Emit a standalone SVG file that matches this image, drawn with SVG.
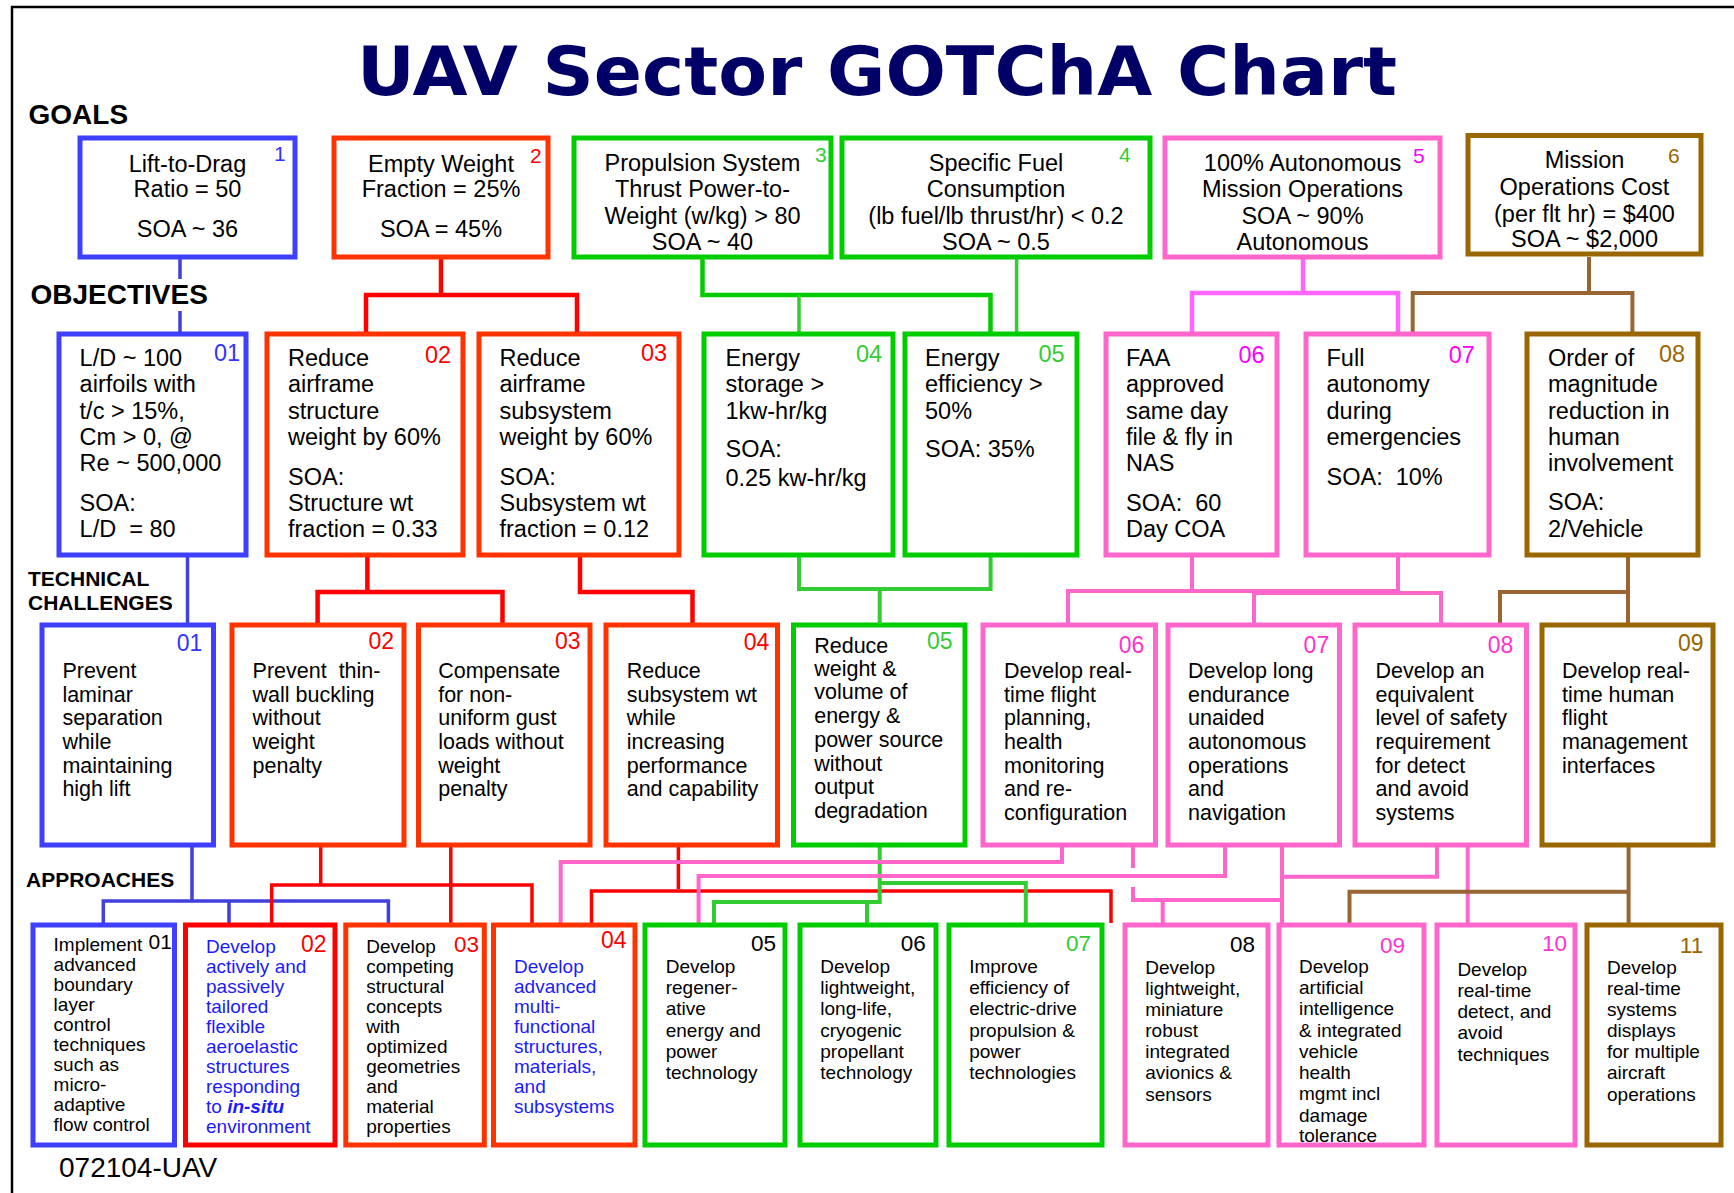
<svg xmlns="http://www.w3.org/2000/svg" width="1734" height="1193" viewBox="0 0 1734 1193">
<style>
text{font-family:"Liberation Sans",Arial,sans-serif;fill:#000}
.box{fill:#fff;stroke-width:5}
.b{stroke:#3f3fff}.r{stroke:#ff3300}.rr{stroke:#ff0000}.g{stroke:#00cc00}.p{stroke:#ff66cc}.br{stroke:#996600}
.gt{font-size:23.5px;text-anchor:middle}
.ot{font-size:23.5px}
.tt{font-size:21.5px}
.at{font-size:19px}
.blue{fill:#1a1aff}
.n1{font-size:21px}.n2{font-size:23.5px}.n3{font-size:23px}.n4{font-size:22.5px}
.nb{fill:#3333ff}.nr{fill:#ff0000}.ng{fill:#33cc33}.nm{fill:#ff00ff}.np{fill:#ff33cc}.nbr{fill:#996600}.nk{fill:#000}
.lbl{font-weight:bold}
.c{fill:none;stroke-linejoin:miter;stroke-linecap:butt}
.cb{stroke:#4040dd;stroke-width:3.5}
.cr{stroke:#ff0000;stroke-width:4.5}
.cr2{stroke:#ff0000;stroke-width:3.5}
.cg{stroke:#00cc00;stroke-width:4.5}
.cg2{stroke:#33cc33;stroke-width:3.5}
.cg3{stroke:#33cc33;stroke-width:4}
.cp{stroke:#ff66ff;stroke-width:4.5}
.cp2{stroke:#ff66cc;stroke-width:4}
.cbr{stroke:#996633;stroke-width:4}
</style>
<rect x="0" y="0" width="1734" height="1193" fill="#fff"/>
<path d="M12,1193 V7 H1734" fill="none" stroke="#000" stroke-width="2.5"/>
<text x="357" y="95" font-family="DejaVu Sans, sans-serif" font-weight="bold" font-size="67" fill="#000066" textLength="1040" lengthAdjust="spacingAndGlyphs" style="font-family:'DejaVu Sans',sans-serif;fill:#000066">UAV Sector GOTChA Chart</text>
<text class="lbl" x="28.5" y="124" font-size="28">GOALS</text>
<text class="lbl" x="30.5" y="304" font-size="28">OBJECTIVES</text>
<text class="lbl" x="28" y="586" font-size="21">TECHNICAL</text>
<text class="lbl" x="28" y="610" font-size="21">CHALLENGES</text>
<text class="lbl" x="26" y="886.7" font-size="21">APPROACHES</text>
<text x="59" y="1177" font-size="28">072104-UAV</text>

<g id="connectors">
<path class="c cb" d="M180,257 V279 M180,311 V334 M187.5,555 V625 M192,845 V901 M103.3,925 V901 H388.4 V925 M229,901 V925"/>
<path class="c cr" d="M441,257 V295 M366,334 V295 H577 V334 M367.4,555 V592 M317.6,625 V592 H502.5 V625 M580,555 V592 H692.5 V625"/>
<path class="c cr2" d="M320.7,845 V885 M271.7,925 V885 H532 V925 M450.8,845 V925 M678.4,845 V889 M591.5,925 V891 H1111 V923"/>
<path class="c cg" d="M702.5,257 V295 H990.5 V334"/>
<path class="c cg2" d="M799,295 V334 M1016.6,257 V334"/>
<path class="c cg3" d="M799,555 V589 H990.6 V555 M879.7,589 V625 M879.7,845 V902 H714 V925 M867,902 V925 M879.7,883 H1025.8 V925"/>
<path class="c cp" d="M1303,257 V293 M1192,334 V293 H1398 V334"/>
<path class="c cp2" d="M1192,555 V591 M1398,555 V591 M1068,625 V591 H1398 M1254,625 V593 H1441 V625 M1062,845 V862 H560.7 V925 M1225,845 V876 H698.6 V925 M1133,845 V868 M1133,887 V900 H1282 M1162.7,900 V925 M1282,845 V925 M1437,845 V876.7 H1282 M1467.7,845 V925"/>
<path class="c cbr" d="M1589,257 V293 M1412.7,334 V293 H1632.4 V334 M1628,555 V625 M1500,625 V592 H1628 M1628.6,845 V925 M1349.5,925 V891.7 H1628.6"/>
</g>

<g id="goal1"><rect class="box b" x="80" y="138" width="215" height="119"/><text class="gt"><tspan x="187.5" y="171.7">Lift-to-Drag</tspan><tspan x="187.5" y="197.3">Ratio = 50</tspan><tspan x="187.5" y="237.3">SOA ~ 36</tspan></text><text class="n1 nb" x="274" y="161">1</text></g>
<g id="goal2"><rect class="box r" x="334" y="138" width="214" height="119"/><text class="gt"><tspan x="441" y="171.7">Empty Weight</tspan><tspan x="441" y="197.3">Fraction = 25%</tspan><tspan x="441" y="237.3">SOA = 45%</tspan></text><text class="n1 nr" x="530" y="162.7">2</text></g>
<g id="goal3"><rect class="box g" x="574" y="138" width="257" height="119"/><text class="gt"><tspan x="702.5" y="171">Propulsion System</tspan><tspan x="702.5" y="197.3">Thrust Power-to-</tspan><tspan x="702.5" y="224.3">Weight (w/kg) &gt; 80</tspan><tspan x="702.5" y="250">SOA ~ 40</tspan></text><text class="n1 ng" x="815" y="161.7">3</text></g>
<g id="goal4"><rect class="box g" x="842" y="138" width="308" height="119"/><text class="gt"><tspan x="996" y="171">Specific Fuel</tspan><tspan x="996" y="197.3">Consumption</tspan><tspan x="996" y="224.3">(lb fuel/lb thrust/hr) &lt; 0.2</tspan><tspan x="996" y="250">SOA ~ 0.5</tspan></text><text class="n1 ng" x="1119" y="161.7">4</text></g>
<g id="goal5"><rect class="box p" x="1165" y="138" width="275" height="119"/><text class="gt"><tspan x="1302.5" y="171">100% Autonomous</tspan><tspan x="1302.5" y="197.3">Mission Operations</tspan><tspan x="1302.5" y="224.3">SOA ~ 90%</tspan><tspan x="1302.5" y="250">Autonomous</tspan></text><text class="n1 nm" x="1413" y="162.7">5</text></g>
<g id="goal6"><rect class="box br" x="1468" y="135.5" width="233" height="118.5"/><text class="gt"><tspan x="1584.5" y="168.3">Mission</tspan><tspan x="1584.5" y="195">Operations Cost</tspan><tspan x="1584.5" y="221.7">(per flt hr) = $400</tspan><tspan x="1584.5" y="246.7">SOA ~ $2,000</tspan></text><text class="n1 nbr" x="1668" y="163.3">6</text></g>

<g id="obj01"><rect class="box b" x="59" y="334" width="187" height="221"/><text class="ot"><tspan x="79.6" y="366">L/D ~ 100</tspan><tspan x="79.6" y="392.3">airfoils with</tspan><tspan x="79.6" y="419">t/c &gt; 15%,</tspan><tspan x="79.6" y="445">Cm &gt; 0, @</tspan><tspan x="79.6" y="471">Re ~ 500,000</tspan><tspan x="79.6" y="511">SOA:</tspan><tspan x="79.6" y="537.3" xml:space="preserve">L/D  = 80</tspan></text><text class="n2 nb" x="214" y="360.7">01</text></g>
<g id="obj02"><rect class="box r" x="267" y="334" width="196" height="221"/><text class="ot"><tspan x="288" y="366">Reduce</tspan><tspan x="288" y="392.3">airframe</tspan><tspan x="288" y="419">structure</tspan><tspan x="288" y="445">weight by 60%</tspan><tspan x="288" y="485">SOA:</tspan><tspan x="288" y="511">Structure wt</tspan><tspan x="288" y="537.3">fraction = 0.33</tspan></text><text class="n2 nr" x="425" y="362.7">02</text></g>
<g id="obj03"><rect class="box r" x="479" y="334" width="200" height="221"/><text class="ot"><tspan x="499.5" y="366">Reduce</tspan><tspan x="499.5" y="392.3">airframe</tspan><tspan x="499.5" y="419">subsystem</tspan><tspan x="499.5" y="445">weight by 60%</tspan><tspan x="499.5" y="485">SOA:</tspan><tspan x="499.5" y="511">Subsystem wt</tspan><tspan x="499.5" y="537.3">fraction = 0.12</tspan></text><text class="n2 nr" x="641" y="360.7">03</text></g>
<g id="obj04"><rect class="box g" x="704" y="334" width="189" height="221"/><text class="ot"><tspan x="725.5" y="366">Energy</tspan><tspan x="725.5" y="392.3">storage &gt;</tspan><tspan x="725.5" y="419">1kw-hr/kg</tspan><tspan x="725.5" y="457.3">SOA:</tspan><tspan x="725.5" y="485.7">0.25 kw-hr/kg</tspan></text><text class="n2 ng" x="856" y="362.3">04</text></g>
<g id="obj05"><rect class="box g" x="905" y="334" width="172" height="221"/><text class="ot"><tspan x="925" y="366">Energy</tspan><tspan x="925" y="392.3">efficiency &gt;</tspan><tspan x="925" y="419">50%</tspan><tspan x="925" y="457.3">SOA: 35%</tspan></text><text class="n2 ng" x="1038.5" y="362.3">05</text></g>
<g id="obj06"><rect class="box p" x="1106" y="334" width="171" height="221"/><text class="ot"><tspan x="1126" y="366">FAA</tspan><tspan x="1126" y="392.3">approved</tspan><tspan x="1126" y="419">same day</tspan><tspan x="1126" y="445">file &amp; fly in</tspan><tspan x="1126" y="471">NAS</tspan><tspan x="1126" y="511" xml:space="preserve">SOA:  60</tspan><tspan x="1126" y="537.3">Day COA</tspan></text><text class="n2 nm" x="1238.5" y="363.3">06</text></g>
<g id="obj07"><rect class="box p" x="1306" y="334" width="183" height="221"/><text class="ot"><tspan x="1326.5" y="366">Full</tspan><tspan x="1326.5" y="392.3">autonomy</tspan><tspan x="1326.5" y="419">during</tspan><tspan x="1326.5" y="445">emergencies</tspan><tspan x="1326.5" y="485" xml:space="preserve">SOA:  10%</tspan></text><text class="n2 nm" x="1448.7" y="363.3">07</text></g>
<g id="obj08"><rect class="box br" x="1527" y="334" width="171" height="221"/><text class="ot"><tspan x="1548" y="366">Order of</tspan><tspan x="1548" y="392.3">magnitude</tspan><tspan x="1548" y="419">reduction in</tspan><tspan x="1548" y="445">human</tspan><tspan x="1548" y="471">involvement</tspan><tspan x="1548" y="510">SOA:</tspan><tspan x="1548" y="536.7">2/Vehicle</tspan></text><text class="n2 nbr" x="1659" y="361.7">08</text></g>

<g id="tc01"><rect class="box b" x="42" y="625" width="171.5" height="220"/><text class="tt"><tspan x="62.4" y="678">Prevent</tspan><tspan x="62.4" y="701.7">laminar</tspan><tspan x="62.4" y="725.3">separation</tspan><tspan x="62.4" y="749">while</tspan><tspan x="62.4" y="772.7">maintaining</tspan><tspan x="62.4" y="796.3">high lift</tspan></text><text class="n3 nb" x="176.8" y="650.7">01</text></g>
<g id="tc02"><rect class="box r" x="232" y="625" width="172" height="220"/><text class="tt"><tspan x="252.6" y="678" xml:space="preserve">Prevent  thin-</tspan><tspan x="252.6" y="701.7">wall buckling</tspan><tspan x="252.6" y="725.3">without</tspan><tspan x="252.6" y="749">weight</tspan><tspan x="252.6" y="772.7">penalty</tspan></text><text class="n3 nr" x="368.5" y="649.3">02</text></g>
<g id="tc03"><rect class="box r" x="418.5" y="625" width="171.5" height="220"/><text class="tt"><tspan x="438.2" y="678">Compensate</tspan><tspan x="438.2" y="701.7">for non-</tspan><tspan x="438.2" y="725.3">uniform gust</tspan><tspan x="438.2" y="749">loads without</tspan><tspan x="438.2" y="772.7">weight</tspan><tspan x="438.2" y="796.3">penalty</tspan></text><text class="n3 nr" x="555" y="649">03</text></g>
<g id="tc04"><rect class="box r" x="606" y="625" width="171.5" height="220"/><text class="tt"><tspan x="626.7" y="678">Reduce</tspan><tspan x="626.7" y="701.7">subsystem wt</tspan><tspan x="626.7" y="725.3">while</tspan><tspan x="626.7" y="749">increasing</tspan><tspan x="626.7" y="772.7">performance</tspan><tspan x="626.7" y="796.3">and capability</tspan></text><text class="n3 nr" x="743.8" y="650">04</text></g>
<g id="tc05"><rect class="box g" x="793.5" y="625" width="171.5" height="220"/><text class="tt"><tspan x="814.2" y="652.7">Reduce</tspan><tspan x="814.2" y="676">weight &amp;</tspan><tspan x="814.2" y="699.3">volume of</tspan><tspan x="814.2" y="723.3">energy &amp;</tspan><tspan x="814.2" y="746.7">power source</tspan><tspan x="814.2" y="770.7">without</tspan><tspan x="814.2" y="794">output</tspan><tspan x="814.2" y="817.7">degradation</tspan></text><text class="n3 ng" x="927" y="649.3">05</text></g>
<g id="tc06"><rect class="box p" x="983" y="625" width="172.5" height="220"/><text class="tt"><tspan x="1004" y="678">Develop real-</tspan><tspan x="1004" y="701.7">time flight</tspan><tspan x="1004" y="725.3">planning,</tspan><tspan x="1004" y="749">health</tspan><tspan x="1004" y="772.7">monitoring</tspan><tspan x="1004" y="796.3">and re-</tspan><tspan x="1004" y="820">configuration</tspan></text><text class="n3 np" x="1118.8" y="652.7">06</text></g>
<g id="tc07"><rect class="box p" x="1168" y="625" width="171.5" height="220"/><text class="tt"><tspan x="1188" y="678">Develop long</tspan><tspan x="1188" y="701.7">endurance</tspan><tspan x="1188" y="725.3">unaided</tspan><tspan x="1188" y="749">autonomous</tspan><tspan x="1188" y="772.7">operations</tspan><tspan x="1188" y="796.3">and</tspan><tspan x="1188" y="820">navigation</tspan></text><text class="n3 np" x="1303.6" y="652.7">07</text></g>
<g id="tc08"><rect class="box p" x="1355" y="625" width="171.5" height="220"/><text class="tt"><tspan x="1375.6" y="678">Develop an</tspan><tspan x="1375.6" y="701.7">equivalent</tspan><tspan x="1375.6" y="725.3">level of safety</tspan><tspan x="1375.6" y="749">requirement</tspan><tspan x="1375.6" y="772.7">for detect</tspan><tspan x="1375.6" y="796.3">and avoid</tspan><tspan x="1375.6" y="820">systems</tspan></text><text class="n3 np" x="1487.7" y="652.7">08</text></g>
<g id="tc09"><rect class="box br" x="1542" y="625" width="171" height="220"/><text class="tt"><tspan x="1562" y="678">Develop real-</tspan><tspan x="1562" y="701.7">time human</tspan><tspan x="1562" y="725.3">flight</tspan><tspan x="1562" y="749">management</tspan><tspan x="1562" y="772.7">interfaces</tspan></text><text class="n3 nbr" x="1678" y="650.7">09</text></g>

<g id="app01"><rect class="box b" x="33" y="925" width="141.5" height="220"/><text class="at"><tspan x="53.6" y="951">Implement</tspan><tspan x="53.6" y="971">advanced</tspan><tspan x="53.6" y="991">boundary</tspan><tspan x="53.6" y="1011">layer</tspan><tspan x="53.6" y="1031">control</tspan><tspan x="53.6" y="1051">techniques</tspan><tspan x="53.6" y="1071">such as</tspan><tspan x="53.6" y="1091">micro-</tspan><tspan x="53.6" y="1111">adaptive</tspan><tspan x="53.6" y="1131">flow control</tspan></text><text class="n1 nk" x="148.5" y="949.3">01</text></g>
<g id="app02"><rect class="box rr" x="185.5" y="925" width="149.5" height="220"/><text class="at blue"><tspan x="206" y="952.7">Develop</tspan><tspan x="206" y="972.7">actively and</tspan><tspan x="206" y="992.7">passively</tspan><tspan x="206" y="1012.7">tailored</tspan><tspan x="206" y="1032.7">flexible</tspan><tspan x="206" y="1052.7">aeroelastic</tspan><tspan x="206" y="1072.7">structures</tspan><tspan x="206" y="1092.7">responding</tspan><tspan x="206" y="1112.7">to <tspan font-weight="bold" font-style="italic">in-situ</tspan></tspan><tspan x="206" y="1132.7">environment</tspan></text><text class="n3 nr" x="301" y="951.7">02</text></g>
<g id="app03"><rect class="box r" x="345.8" y="925" width="138.5" height="220"/><text class="at"><tspan x="366.2" y="952.7">Develop</tspan><tspan x="366.2" y="972.7">competing</tspan><tspan x="366.2" y="992.7">structural</tspan><tspan x="366.2" y="1012.7">concepts</tspan><tspan x="366.2" y="1032.7">with</tspan><tspan x="366.2" y="1052.7">optimized</tspan><tspan x="366.2" y="1072.7">geometries</tspan><tspan x="366.2" y="1092.7">and</tspan><tspan x="366.2" y="1112.7">material</tspan><tspan x="366.2" y="1132.7">properties</tspan></text><text class="n4 nr" x="454" y="952">03</text></g>
<g id="app04"><rect class="box r" x="493.5" y="925" width="141.5" height="220"/><text class="at blue"><tspan x="514" y="972.7">Develop</tspan><tspan x="514" y="992.7">advanced</tspan><tspan x="514" y="1012.7">multi-</tspan><tspan x="514" y="1032.7">functional</tspan><tspan x="514" y="1052.7">structures,</tspan><tspan x="514" y="1072.7">materials,</tspan><tspan x="514" y="1092.7">and</tspan><tspan x="514" y="1112.7">subsystems</tspan></text><text class="n3 nr" x="601" y="948.3">04</text></g>
<g id="app05"><rect class="box g" x="645" y="925" width="140" height="220"/><text class="at"><tspan x="665.7" y="973.3">Develop</tspan><tspan x="665.7" y="994.3">regener-</tspan><tspan x="665.7" y="1015.3">ative</tspan><tspan x="665.7" y="1036.5">energy and</tspan><tspan x="665.7" y="1057.7">power</tspan><tspan x="665.7" y="1079">technology</tspan></text><text class="n4 nk" x="751" y="950.7">05</text></g>
<g id="app06"><rect class="box g" x="800" y="925" width="136" height="220"/><text class="at"><tspan x="820.3" y="973.3">Develop</tspan><tspan x="820.3" y="994.3">lightweight,</tspan><tspan x="820.3" y="1015.3">long-life,</tspan><tspan x="820.3" y="1036.5">cryogenic</tspan><tspan x="820.3" y="1057.7">propellant</tspan><tspan x="820.3" y="1079">technology</tspan></text><text class="n4 nk" x="900.7" y="950.7">06</text></g>
<g id="app07"><rect class="box g" x="949" y="925" width="153" height="220"/><text class="at"><tspan x="969.2" y="973.3">Improve</tspan><tspan x="969.2" y="994.3">efficiency of</tspan><tspan x="969.2" y="1015.3">electric-drive</tspan><tspan x="969.2" y="1036.5">propulsion &amp;</tspan><tspan x="969.2" y="1057.7">power</tspan><tspan x="969.2" y="1079">technologies</tspan></text><text class="n4 ng" x="1066" y="950.7">07</text></g>
<g id="app08"><rect class="box p" x="1125" y="925" width="143" height="220"/><text class="at"><tspan x="1145.3" y="974">Develop</tspan><tspan x="1145.3" y="995">lightweight,</tspan><tspan x="1145.3" y="1016">miniature</tspan><tspan x="1145.3" y="1036.7">robust</tspan><tspan x="1145.3" y="1058.3">integrated</tspan><tspan x="1145.3" y="1079.3">avionics &amp;</tspan><tspan x="1145.3" y="1101">sensors</tspan></text><text class="n4 nk" x="1230" y="951.7">08</text></g>
<g id="app09"><rect class="box p" x="1279" y="925" width="145" height="220"/><text class="at"><tspan x="1299" y="973.3">Develop</tspan><tspan x="1299" y="994.3">artificial</tspan><tspan x="1299" y="1015">intelligence</tspan><tspan x="1299" y="1036.7">&amp; integrated</tspan><tspan x="1299" y="1058.3">vehicle</tspan><tspan x="1299" y="1079.3">health</tspan><tspan x="1299" y="1100">mgmt incl</tspan><tspan x="1299" y="1121.7">damage</tspan><tspan x="1299" y="1141.7">tolerance</tspan></text><text class="n4 np" x="1380" y="952.7">09</text></g>
<g id="app10"><rect class="box p" x="1437" y="925" width="138" height="220"/><text class="at"><tspan x="1457.4" y="976">Develop</tspan><tspan x="1457.4" y="996.7">real-time</tspan><tspan x="1457.4" y="1017.7">detect, and</tspan><tspan x="1457.4" y="1039.3">avoid</tspan><tspan x="1457.4" y="1060.7">techniques</tspan></text><text class="n4 np" x="1542" y="950.7">10</text></g>
<g id="app11"><rect class="box br" x="1587" y="925" width="134" height="220"/><text class="at"><tspan x="1607" y="974">Develop</tspan><tspan x="1607" y="995">real-time</tspan><tspan x="1607" y="1016">systems</tspan><tspan x="1607" y="1036.7">displays</tspan><tspan x="1607" y="1058.3">for multiple</tspan><tspan x="1607" y="1079.3">aircraft</tspan><tspan x="1607" y="1101">operations</tspan></text><text class="n4 nbr" x="1679.8" y="952.7">11</text></g>
</svg>
